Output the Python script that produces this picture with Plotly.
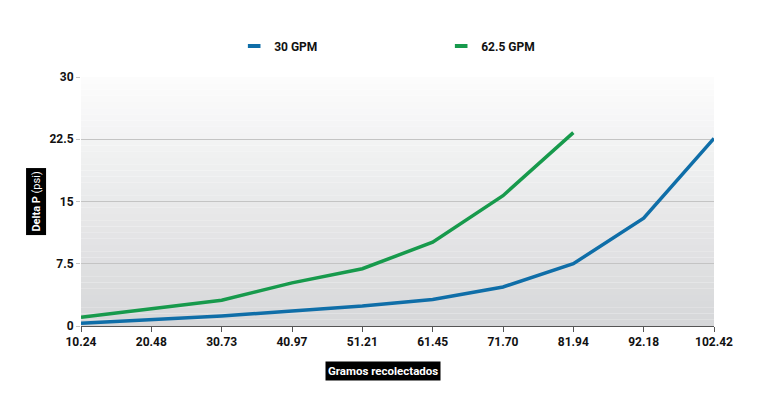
import plotly.graph_objects as go

categories = ["10.24", "20.48", "30.73", "40.97", "51.21", "61.45", "71.70", "81.94", "92.18", "102.42"]
gpm30 = [0.32, 0.75, 1.2, 1.8, 2.4, 3.2, 4.7, 7.5, 13.0, 22.6]
gpm625 = [1.05, 2.1, 3.1, 5.2, 6.9, 10.1, 15.7, 23.3]
y_ticks = [0, 7.5, 15, 22.5, 30]
y_ticktext = ["0", "7.5", "15", "22.5", "30"]

BLUE = "#0f6ea8"
GREEN = "#179a4c"
FONT = "Roboto, Liberation Sans, sans-serif"

fig = go.Figure()

# gradient background bands (white at top -> light gray at bottom)
n = 40
shapes = []
for i in range(n):
    t = i / (n - 1)
    top = (252, 252, 252)
    bot = (214, 215, 217)
    c = tuple(int(round(bot[k] + (top[k] - bot[k]) * t)) for k in range(3))
    shapes.append(dict(type="rect", xref="paper", yref="y", x0=0, x1=1,
                       y0=30 * i / n, y1=30 * (i + 1) / n,
                       fillcolor="rgb(%d,%d,%d)" % c, line=dict(width=0), layer="below"))

fig.add_trace(go.Scatter(x=categories, y=gpm30, mode="lines", name="30 GPM",
                         line=dict(color=BLUE, width=3.5), showlegend=False))
fig.add_trace(go.Scatter(x=categories[:len(gpm625)], y=gpm625, mode="lines", name="62.5 GPM",
                         line=dict(color=GREEN, width=3.5), showlegend=False))
# legend entries
fig.add_trace(go.Scatter(x=[None], y=[None], mode="markers", name="30 GPM",
                         marker=dict(symbol="line-ew", size=9, line=dict(color=BLUE, width=4))))
fig.add_trace(go.Scatter(x=[None], y=[None], mode="markers", name="62.5 GPM",
                         marker=dict(symbol="line-ew", size=9, line=dict(color=GREEN, width=4))))

fig.update_layout(
    width=768, height=398,
    margin=dict(l=73, r=62, t=69, b=80),
    paper_bgcolor="white", plot_bgcolor="rgba(0,0,0,0)",
    font=dict(family=FONT, size=12, color="#111111"),
    shapes=shapes,
    showlegend=True,
    legend=dict(orientation="h", x=0.242, xanchor="left", y=1.125, yanchor="middle",
                entrywidth=162, entrywidthmode="pixels",
                font=dict(family=FONT, size=12, color="#111111", weight="bold"),
                bgcolor="rgba(0,0,0,0)", itemwidth=30),
    xaxis=dict(type="category", categoryorder="array", categoryarray=categories,
               range=[0, 9], showgrid=False, showline=True, linecolor="#555555", linewidth=1,
               ticks="outside", ticklen=5, tickcolor="#555555",
               tickfont=dict(family=FONT, size=12, color="#111111", weight="bold"),
               zeroline=False),
    yaxis=dict(range=[0, 30], tickvals=y_ticks, ticktext=y_ticktext,
               showgrid=True, gridcolor="#c4c4c4", gridwidth=1,
               ticks="outside", ticklen=4, tickcolor="#c4c4c4",
               tickfont=dict(family=FONT, size=12, color="#111111", weight="bold"),
               zeroline=False, showline=False),
    annotations=[
        dict(text="<b>Delta P</b> (psi)", xref="paper", yref="paper", x=-0.071, y=0.5,
             xanchor="center", yanchor="middle", textangle=-90, showarrow=False,
             bgcolor="black", font=dict(family=FONT, size=11, color="white"), borderpad=3),
        dict(text="<b>Gramos recolectados</b>", xref="paper", yref="paper", x=0.477, y=-0.181,
             xanchor="center", yanchor="middle", showarrow=False,
             bgcolor="black", font=dict(family=FONT, size=11.5, color="white"), borderpad=2),
    ],
)

fig.write_html("out.html")
